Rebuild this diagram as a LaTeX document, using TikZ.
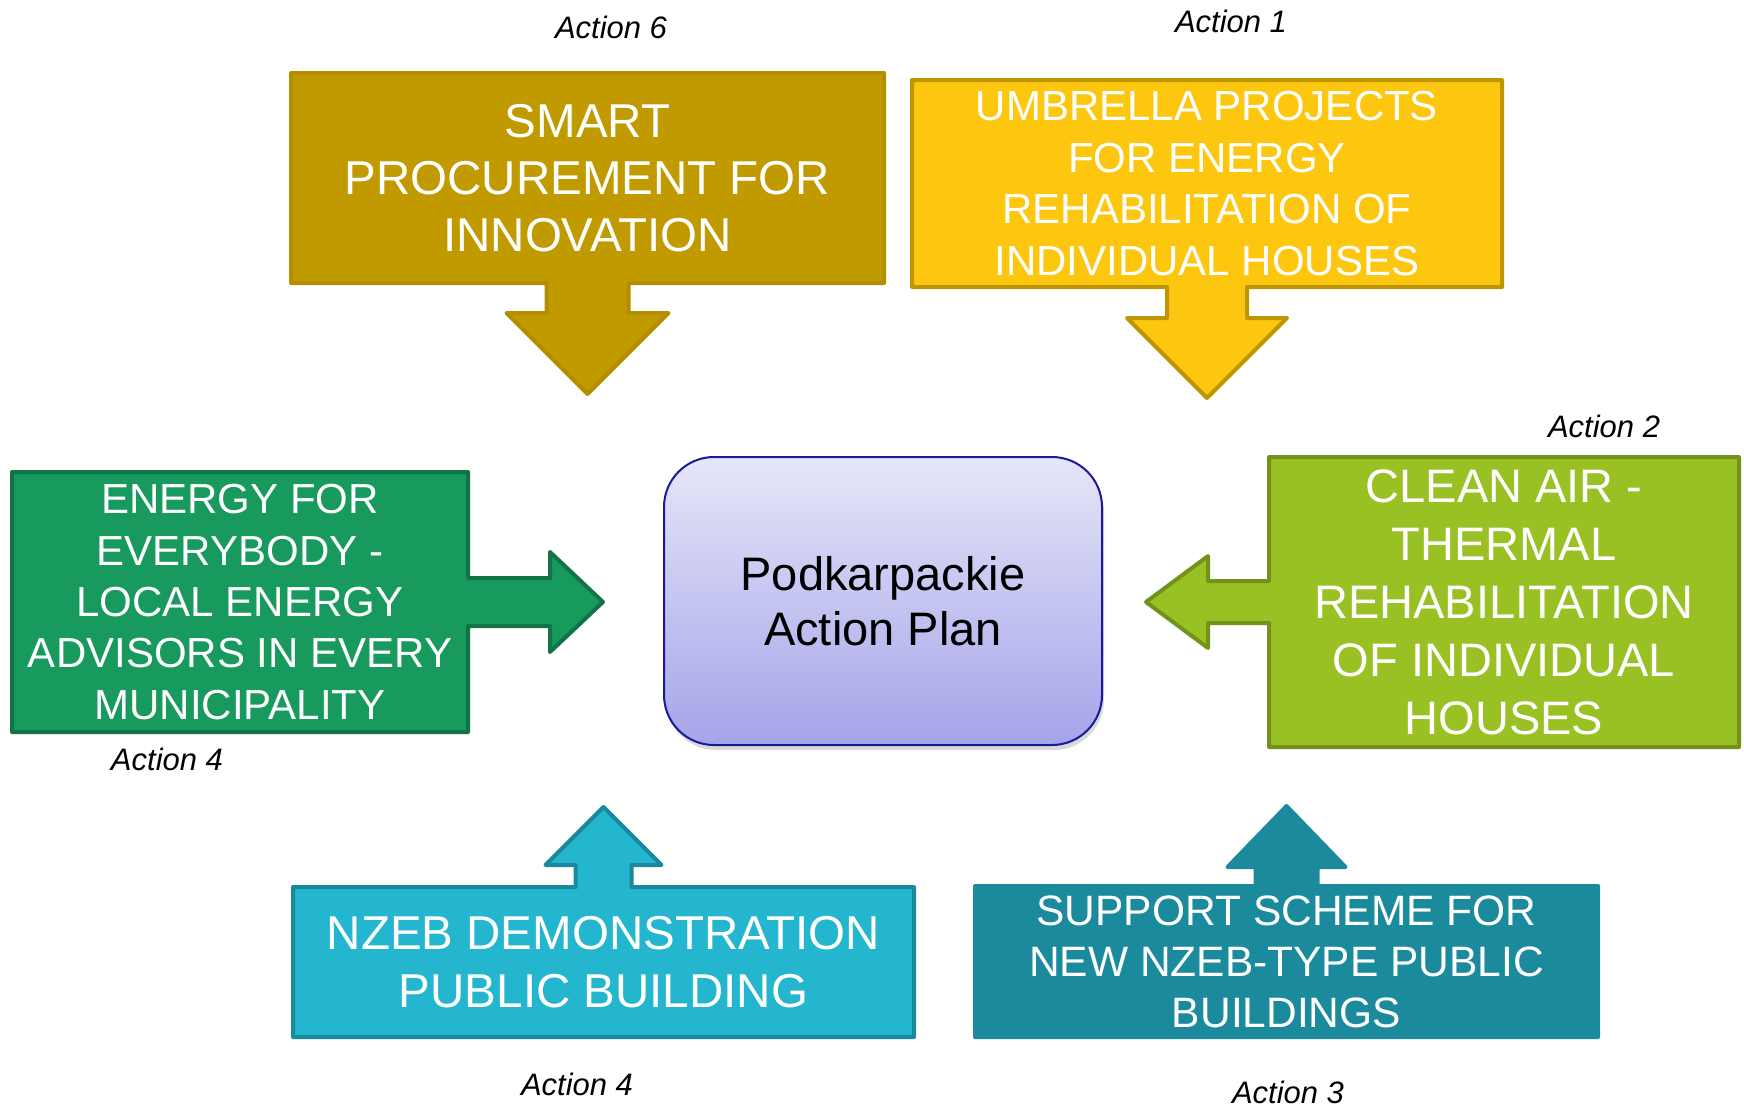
\documentclass[tikz,border=0pt]{standalone}
\usepackage{fontspec}
\setmainfont{Liberation Sans}
\usetikzlibrary{calc,shadows,backgrounds}
\definecolor{smartColor}{HTML}{C19A00}
\definecolor{smartLine}{HTML}{B38F00}
\definecolor{umbrellaColor}{HTML}{FCC70E}
\definecolor{umbrellaLine}{HTML}{BF9500}
\definecolor{energyColor}{HTML}{18995E}
\definecolor{energyLine}{HTML}{127347}
\definecolor{cleanColor}{HTML}{99C124}
\definecolor{cleanLine}{HTML}{73921B}
\definecolor{nzebColor}{HTML}{23B6CE}
\definecolor{nzebLine}{HTML}{188A9C}
\definecolor{supportColor}{HTML}{1B8A9D}
\definecolor{planTop}{HTML}{E6E6F8}
\definecolor{planBottom}{HTML}{A4A4EA}
\definecolor{planLine}{HTML}{1A1A99}

\begin{document}
\begin{tikzpicture}[x=1pt,y=-1pt,align=center]
    \useasboundingbox (0,0) rectangle (1744,1106);
    \tikzstyle{box}=[inner sep=0pt,outer sep=0pt,text=white]
    \tikzstyle{outline}=[line width=4pt,line join=round]
    \tikzstyle{actionLabel}=[font=\fontsize{31}{31}\selectfont\itshape,anchor=base]
    % All boxes
    \node (smart) [box,minimum width=593pt,minimum height=210pt,%
      font=\fontsize{47.5}{57}\selectfont] at (587.5,178)
      {SMART\\PROCUREMENT FOR\\INNOVATION};
    \node (umbrella) [box,minimum width=590pt,minimum height=207pt,%
      font=\fontsize{42}{51.5}\selectfont] at (1207,183.5)
      {UMBRELLA PROJECTS\\FOR ENERGY\\REHABILITATION OF\\INDIVIDUAL HOUSES};
    \node (energy) [box,minimum width=456pt,minimum height=260pt,%
      font=\fontsize{42}{51.3}\selectfont] at (240,602)
      {ENERGY FOR\\EVERYBODY -\\LOCAL ENERGY\\ADVISORS IN EVERY\\MUNICIPALITY};
    \node (clean) [box,minimum width=470pt,minimum height=290pt,%
      font=\fontsize{47}{58}\selectfont] at (1504,602)
      {CLEAN AIR -\\THERMAL\\REHABILITATION\\OF INDIVIDUAL\\HOUSES};
    \node (nzeb) [box,minimum width=621pt,minimum height=150pt,%
      font=\fontsize{47.5}{58}\selectfont] at (603.5,962)
      {NZEB DEMONSTRATION\\PUBLIC BUILDING};
    \node (support) [box,minimum width=623pt,minimum height=151pt,%
      font=\fontsize{42.5}{51}\selectfont] at (1286.5,961.5)
      {SUPPORT SCHEME FOR\\NEW NZEB-TYPE PUBLIC\\BUILDINGS};
    \node (plan) [draw=planLine,line width=2pt,rounded corners=50pt,%
      top color=planTop,bottom color=planBottom,inner sep=0pt,outer sep=0pt,%
      minimum width=438pt,minimum height=288pt,font=\fontsize{47}{55}\selectfont,%
      drop shadow={opacity=0.3,shadow xshift=2pt,shadow yshift=-5pt}] at (883,601)
      {Podkarpackie\\Action Plan};
    % Action labels
    \node (act6) [actionLabel] at (611,38) {Action 6};
    \node (act1) [actionLabel] at (1231,32) {Action 1};
    \node (act2) [actionLabel] at (1604,437) {Action 2};
    \node (act4a) [actionLabel] at (167,770) {Action 4};
    \node (act4b) [actionLabel] at (577,1095) {Action 4};
    \node (act3) [actionLabel] at (1288,1103) {Action 3};
    % Boxes with their arrows
    \begin{scope}[on background layer]
    \draw [outline,fill=smartColor,draw=smartLine] (smart.south west) -- (smart.north west)
      -- (smart.north east) -- (smart.south east) -- ($(smart.south)+(41,0)$)
      -- ++(0,30) -- ++(40,0) -- ++(-81,81) -- ++(-81,-81) -- ++(40,0) -- ++(0,-30) -- cycle;
    \draw [outline,fill=umbrellaColor,draw=umbrellaLine] (umbrella.south west) -- (umbrella.north west)
      -- (umbrella.north east) -- (umbrella.south east) -- ($(umbrella.south)+(40,0)$)
      -- ++(0,31) -- ++(40,0) -- ++(-80,80) -- ++(-80,-80) -- ++(40,0) -- ++(0,-31) -- cycle;
    \draw [outline,fill=energyColor,draw=energyLine] (energy.north west) -- (energy.north east)
      -- ($(energy.east)+(0,-24)$) -- ++(82,0) -- ++(0,-26) -- ++(53,50) -- ++(-53,50)
      -- ++(0,-26) -- ++(-82,0) -- (energy.south east) -- (energy.south west) -- cycle;
    \draw [outline,fill=cleanColor,draw=cleanLine] (clean.north east) -- (clean.north west)
      -- ($(clean.west)+(0,-21)$) -- ++(-61,0) -- ++(0,-25) -- ++(-62,46) -- ++(62,46)
      -- ++(0,-25) -- ++(61,0) -- (clean.south west) -- (clean.south east) -- cycle;
    \draw [outline,fill=nzebColor,draw=nzebLine] (nzeb.south west) -- (nzeb.north west)
      -- ($(nzeb.north)+(-28,0)$) -- ++(0,-22) -- ++(-30,0) -- ++(58,-58) -- ++(58,58)
      -- ++(-30,0) -- ++(0,22) -- (nzeb.north east) -- (nzeb.south east) -- cycle;
    \draw [outline,fill=supportColor,draw=supportColor] (support.south west) -- (support.north west)
      -- ($(support.north)+(-31,0)$) -- ++(0,-19) -- ++(-28,0) -- ++(59,-61) -- ++(59,61)
      -- ++(-28,0) -- ++(0,19) -- (support.north east) -- (support.south east) -- cycle;
    \end{scope}
\end{tikzpicture}
\end{document}
